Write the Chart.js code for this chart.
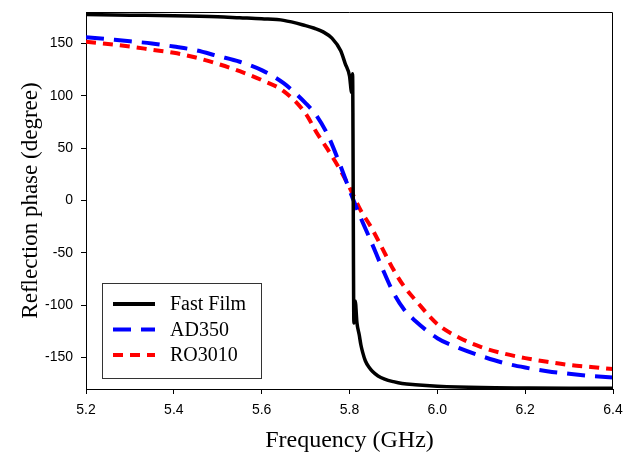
<!DOCTYPE html>
<html>
<head>
<meta charset="utf-8">
<script src="https://cdn.jsdelivr.net/npm/chart.js@4/dist/chart.umd.min.js"></script>
<style>
  html, body { margin: 0; padding: 0; background: #fff; }
  #wrap { width: 624px; height: 457px; }
</style>
</head>
<body>
<div id="wrap"><canvas id="phase"></canvas></div>
<script>
// ===== DATA =====
const freqFast = [5.20, 5.30, 5.40, 5.50, 5.55, 5.60, 5.65, 5.70, 5.72, 5.74, 5.76, 5.78, 5.79, 5.80, 5.805, 5.807,
  5.810, 5.813, 5.817, 5.822, 5.826, 5.830, 5.836, 5.845, 5.852, 5.865, 5.88, 5.90, 5.92, 5.95, 6.00, 6.10, 6.20, 6.30, 6.40];
const phaseFast = [177.5, 177, 176.5, 175.5, 174.5, 173.5, 172, 167, 164.5, 161, 155, 143, 131, 119, 103, 121,
  -117, -96, -117, -128, -138, -145, -153, -159.5, -163, -167.5, -170.5, -173, -174.8, -176, -177.3, -178.6, -179, -179.2, -179.2];

const freqRef = [5.20, 5.25, 5.30, 5.35, 5.40, 5.45, 5.50, 5.55, 5.60, 5.65, 5.70, 5.725, 5.75, 5.775, 5.80,
  5.825, 5.85, 5.875, 5.90, 5.925, 5.95, 6.00, 6.05, 6.10, 6.15, 6.20, 6.25, 6.30, 6.35, 6.40];
const phaseAD350 = [156, 154, 152, 150, 147, 143.5, 138, 132.5, 124.5, 112, 93, 81, 63, 38, 10,
  -16, -40, -65, -88, -104.5, -115, -131.5, -141, -148.5, -155, -159.5, -163, -165.5, -167.5, -169];
const phaseRO3010 = [151.5, 149.5, 147, 144, 141, 136.5, 130.5, 123.5, 115, 104.5, 83, 65, 49, 32, 12.5,
  -9, -26, -46, -66, -82.5, -95, -118, -131, -140, -146, -150.5, -154, -157, -159, -161];

const xTicks = [5.2, 5.4, 5.6, 5.8, 6.0, 6.2, 6.4];
const yTicks = [-150, -100, -50, 0, 50, 100, 150];

const seriesNames = ['Fast Film', 'AD350', 'RO3010'];
const seriesColors = ['#000000', '#0000ff', '#ff0000'];
const seriesDash = [[], [18, 10], [10, 7]];

const toPoints = (xs, ys) => xs.map((x, i) => ({ x, y: ys[i] }));

// ===== PLUGINS =====
// Closes the frame on top and right edges of the plot
const frameBox = {
  id: 'frameBox',
  afterDatasetsDraw(chart) {
    const { ctx, chartArea: a } = chart;
    ctx.save();
    ctx.strokeStyle = '#000';
    ctx.lineWidth = 1;
    ctx.beginPath();
    ctx.moveTo(a.left, a.top + 0.5);
    ctx.lineTo(a.right - 0.5, a.top + 0.5);
    ctx.lineTo(a.right - 0.5, a.bottom);
    ctx.stroke();
    ctx.restore();
  }
};

// Boxed legend in the lower-left corner of the plot
const boxLegend = {
  id: 'boxLegend',
  afterDraw(chart) {
    const { ctx } = chart;
    const box = { x: 102, y: 283, w: 159, h: 95 };
    ctx.save();
    ctx.fillStyle = '#fff';
    ctx.fillRect(box.x, box.y, box.w, box.h);
    ctx.strokeStyle = '#333';
    ctx.lineWidth = 1;
    ctx.strokeRect(box.x + 0.5, box.y + 0.5, box.w, box.h);
    ctx.font = '20px "Liberation Serif", "Times New Roman", serif';
    ctx.textBaseline = 'middle';
    chart.data.datasets.forEach((ds, i) => {
      const y = 304 + i * 25.5;
      ctx.strokeStyle = ds.borderColor;
      ctx.lineWidth = 4;
      ctx.setLineDash(ds.borderDash);
      ctx.beginPath();
      ctx.moveTo(113, y);
      ctx.lineTo(155, y);
      ctx.stroke();
      ctx.setLineDash([]);
      ctx.fillStyle = '#000';
      ctx.fillText(ds.label, 170, y + 1);
    });
    ctx.restore();
  }
};

// no extra room for tick labels overhanging the plot edges
const noOverhang = s => {
  s.paddingTop = 0; s.paddingBottom = 0; s.paddingLeft = 0; s.paddingRight = 0;
};

// ===== CHART =====
const tickFont = { family: '"Liberation Sans", Arial, sans-serif', size: 14 };
const titleFamily = '"Liberation Serif", "Times New Roman", serif';

new Chart(document.getElementById('phase'), {
  type: 'line',
  data: {
    datasets: [
      { label: seriesNames[0], data: toPoints(freqFast, phaseFast), borderColor: seriesColors[0], borderWidth: 3.5, borderDash: seriesDash[0] },
      { label: seriesNames[1], data: toPoints(freqRef, phaseAD350), borderColor: seriesColors[1], borderWidth: 4, borderDash: seriesDash[1] },
      { label: seriesNames[2], data: toPoints(freqRef, phaseRO3010), borderColor: seriesColors[2], borderWidth: 4, borderDash: seriesDash[2] }
    ].map(ds => ({ ...ds, pointRadius: 0, fill: false, cubicInterpolationMode: 'monotone' }))
  },
  options: {
    responsive: true,
    maintainAspectRatio: false,
    animation: false,
    layout: { padding: { top: 12, right: 11, left: 0, bottom: 0 } },
    plugins: { legend: { display: false }, tooltip: { enabled: false } },
    scales: {
      x: {
        type: 'linear',
        min: 5.2,
        max: 6.4,
        afterBuildTicks: s => { s.ticks = xTicks.map(v => ({ value: v })); },
        afterFit: s => { s.height = 68; noOverhang(s); },
        ticks: { color: '#000', font: tickFont, padding: 8, maxRotation: 0, callback: v => v.toFixed(1) },
        grid: { drawOnChartArea: false, drawTicks: true, tickLength: 5, color: '#000' },
        border: { color: '#000', width: 1 },
        title: { display: true, text: 'Frequency (GHz)', color: '#000', font: { family: titleFamily, size: 24 }, padding: { bottom: 2 } }
      },
      y: {
        min: -180,
        max: 180,
        afterBuildTicks: s => { s.ticks = yTicks.map(v => ({ value: v })); },
        afterFit: s => { s.width = 86; noOverhang(s); },
        ticks: { color: '#000', font: tickFont, padding: 8 },
        grid: { drawOnChartArea: false, drawTicks: true, tickLength: 5, color: '#000' },
        border: { color: '#000', width: 1 },
        title: { display: true, text: 'Reflection phase (degree)', color: '#000', font: { family: titleFamily, size: 23 }, padding: { top: 17 } }
      }
    }
  },
  plugins: [frameBox, boxLegend]
});
</script>
</body>
</html>
